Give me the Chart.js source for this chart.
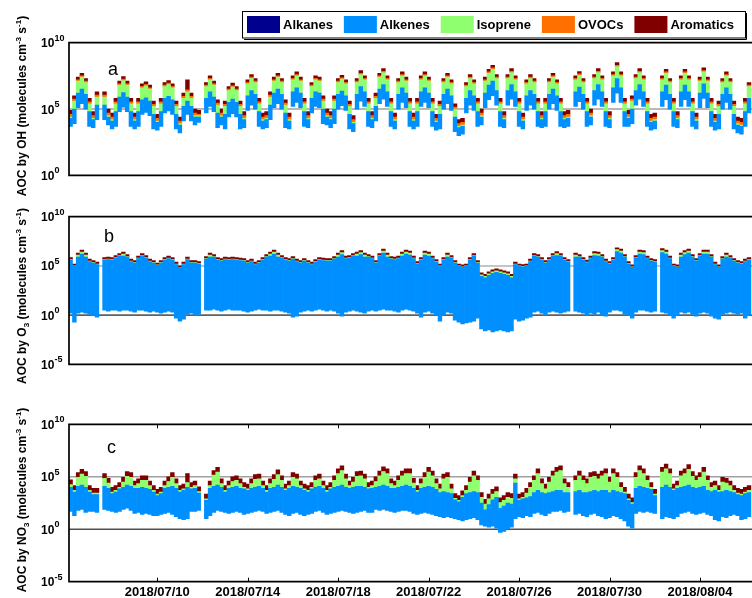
<!DOCTYPE html>
<html>
<head>
<meta charset="utf-8">
<script src="https://cdn.jsdelivr.net/npm/chart.js@4.4.1/dist/chart.umd.min.js"></script>
<style>
  html, body { margin: 0; padding: 0; background: #fff; }
  #wrap { position: relative; width: 752px; height: 598px; overflow: hidden; }
  canvas { position: absolute; left: 0; }
</style>
</head>
<body>
<div id="wrap">
  <canvas id="chartOH" width="752" height="200" style="top:0"></canvas>
  <canvas id="chartO3" width="752" height="200" style="top:200px"></canvas>
  <canvas id="chartNO3" width="752" height="198" style="top:400px"></canvas>
</div>
<script>
// one bar every 4 h, hours counted from 2018/07/10 00:00
const slotStartHour = -92;
const slotHours = 4;
const tickHours = [0, 96, 192, 288, 384, 480, 576];
const tickLabels = ["2018/07/10", "2018/07/14", "2018/07/18", "2018/07/22", "2018/07/26", "2018/07/30", "2018/08/04"];

const seriesNames = ["Alkanes", "Alkenes", "Isoprene", "OVOCs", "Aromatics"];
const seriesColors = ["rgb(0,0,143)", "rgb(0,143,255)", "rgb(143,255,112)", "rgb(255,112,0)", "rgb(128,0,0)"];

// log10 of the cumulative AOC (molecules cm-3 s-1) at the top of each class, null = no data

// a: AOC by OH
const ohAlkanesTop = [
  3.7, 3.9, 5.1, 5.4, 5.0, 3.7, 3.6, 4.2, null, 4.2,
  3.8, 3.5, 3.7, 4.8, 5.15, 4.8, 3.7, 3.5, 3.7, 4.6,
  4.75, 4.5, 3.5, 3.4, 3.7, 4.7, 4.85, 4.6, 3.5, 3.2,
  4.1, 4.6, 4.1, 3.8, 4.0, null, 4.7, 5.2, 4.8, 3.6,
  3.8, 3.5, 4.4, 4.65, 4.4, 3.5, 3.6, 4.9, 5.3, 5.0,
  3.7, 3.5, 3.6, 4.2, 5.1, 5.4, 5.0, 3.6, 3.5, 5.2,
  5.5, 5.1, 3.7, 3.6, 4.7, 5.2, 5.1, 3.9, 3.8, 3.6,
  3.9, 5.0, 5.25, 4.9, 3.5, 3.3, 5.0, 5.6, 5.2, 3.7,
  3.6, 4.1, 5.4, 5.75, 5.2, 3.7, 3.5, 5.0, 5.5, 5.1,
  3.7, 3.5, 3.7, 5.2, 5.5, 5.1, 3.7, 3.4, 3.5, 5.0,
  5.4, 4.9, 3.3, 3.0, 3.1, 4.7, 5.3, 4.9, 3.7, 3.8,
  5.1, 5.7, 6.0, 5.3, 3.7, 3.6, 5.3, 5.75, 5.2, 3.7,
  3.5, 4.9, 5.3, 5.0, 3.7, 3.6, 3.7, 5.0, 5.4, 4.9,
  3.7, 3.6, 3.7, null, 5.2, 5.55, 5.0, 3.7, 3.8, 5.3,
  5.75, 5.2, 3.7, 3.6, 5.5, 6.2, 5.5, 3.7, 3.7, 3.9,
  5.3, 5.75, 5.2, 3.7, 3.4, 3.5, null, 5.2, 5.7, 5.0,
  3.7, 3.6, 5.2, 5.7, 5.2, 3.7, 3.5, 5.1, 5.8, 5.1,
  3.7, 3.4, 3.5, 5.0, 5.5, 5.0, 3.5, 3.2, 3.1, 3.7,
  4.7
];
const ohAlkenesTop = [
  4.3, 5.0, 6.2, 6.5, 6.1, 4.8, 4.2, 5.3, null, 5.3,
  4.4, 4.1, 4.8, 5.9, 6.25, 5.9, 4.8, 4.1, 4.8, 5.7,
  5.85, 5.6, 4.6, 4.0, 4.8, 5.8, 5.95, 5.7, 4.6, 3.8,
  5.2, 5.6, 5.2, 4.4, 4.4, null, 5.8, 6.3, 5.9, 4.7,
  4.4, 4.6, 5.5, 5.75, 5.5, 4.6, 4.2, 6.0, 6.4, 6.1,
  4.8, 4.1, 4.2, 5.3, 6.2, 6.5, 6.1, 4.7, 4.1, 6.3,
  6.6, 6.2, 4.8, 4.2, 5.8, 6.3, 6.2, 5.0, 4.4, 4.2,
  5.0, 6.1, 6.35, 6.0, 4.6, 3.9, 6.1, 6.7, 6.3, 4.8,
  4.2, 5.2, 6.5, 6.85, 6.3, 4.8, 4.1, 6.1, 6.6, 6.2,
  4.8, 4.1, 4.8, 6.3, 6.6, 6.2, 4.8, 4.0, 4.6, 6.1,
  6.5, 6.0, 4.4, 3.6, 3.7, 5.8, 6.4, 6.0, 4.8, 4.4,
  6.2, 6.8, 7.1, 6.4, 4.8, 4.2, 6.4, 6.85, 6.3, 4.8,
  4.1, 6.0, 6.4, 6.1, 4.8, 4.2, 4.8, 6.1, 6.5, 6.0,
  4.8, 4.2, 4.3, null, 6.3, 6.65, 6.1, 4.8, 4.4, 6.4,
  6.85, 6.3, 4.8, 4.2, 6.6, 7.3, 6.6, 4.8, 4.3, 5.0,
  6.4, 6.85, 6.3, 4.8, 4.0, 4.1, null, 6.3, 6.8, 6.1,
  4.8, 4.2, 6.3, 6.8, 6.3, 4.8, 4.1, 6.2, 6.9, 6.2,
  4.8, 4.0, 4.6, 6.1, 6.6, 6.1, 4.6, 3.8, 3.7, 4.8,
  5.8
];
const ohIsopreneTop = [
  4.4, 5.6, 7.1, 7.4, 7.0, 5.4, 4.3, 5.9, null, 5.9,
  4.5, 4.2, 5.4, 6.8, 7.15, 6.8, 5.4, 4.2, 5.4, 6.6,
  6.75, 6.5, 5.2, 4.1, 5.4, 6.7, 6.85, 6.6, 5.2, 3.9,
  5.8, 6.3, 5.8, 4.5, 4.5, null, 6.7, 7.2, 6.8, 5.3,
  4.5, 5.2, 6.4, 6.65, 6.4, 5.2, 4.3, 6.9, 7.3, 7.0,
  5.4, 4.2, 4.3, 5.9, 7.1, 7.4, 7.0, 5.3, 4.2, 7.2,
  7.5, 7.1, 5.4, 4.3, 6.7, 7.2, 7.1, 5.6, 4.5, 4.3,
  5.6, 7.0, 7.25, 6.9, 5.2, 4.0, 7.0, 7.6, 7.2, 5.4,
  4.3, 5.8, 7.4, 7.75, 7.2, 5.4, 4.2, 7.0, 7.5, 7.1,
  5.4, 4.2, 5.4, 7.2, 7.5, 7.1, 5.4, 4.1, 5.2, 7.0,
  7.4, 6.9, 5.0, 3.7, 3.8, 6.7, 7.3, 6.9, 5.4, 4.5,
  7.1, 7.7, 8.0, 7.3, 5.4, 4.3, 7.3, 7.75, 7.2, 5.4,
  4.2, 6.9, 7.3, 7.0, 5.4, 4.3, 5.4, 7.0, 7.4, 6.9,
  5.4, 4.3, 4.4, null, 7.2, 7.55, 7.0, 5.4, 4.5, 7.3,
  7.75, 7.2, 5.4, 4.3, 7.5, 8.2, 7.5, 5.4, 4.4, 5.6,
  7.3, 7.75, 7.2, 5.4, 4.1, 4.2, null, 7.2, 7.7, 7.0,
  5.4, 4.3, 7.2, 7.7, 7.2, 5.4, 4.2, 7.1, 7.8, 7.1,
  5.4, 4.1, 5.2, 7.0, 7.5, 7.0, 5.2, 3.9, 3.8, 5.4,
  6.7
];
const ohOvocsTop = [
  4.6, 5.75, 7.2, 7.5, 7.1, 5.55, 4.5, 6.05, null, 6.05,
  4.7, 4.4, 5.55, 6.9, 7.25, 6.9, 5.55, 4.4, 5.55, 6.7,
  6.85, 6.6, 5.35, 4.3, 5.55, 6.8, 6.95, 6.7, 5.35, 4.1,
  5.95, 6.45, 5.95, 4.7, 4.6, null, 6.8, 7.3, 6.9, 5.45,
  4.7, 5.35, 6.5, 6.75, 6.5, 5.35, 4.5, 7.0, 7.4, 7.1,
  5.55, 4.4, 4.5, 6.05, 7.2, 7.5, 7.1, 5.45, 4.4, 7.3,
  7.6, 7.2, 5.55, 4.5, 6.8, 7.3, 7.2, 5.75, 4.7, 4.5,
  5.75, 7.1, 7.35, 7.0, 5.35, 4.2, 7.1, 7.7, 7.3, 5.55,
  4.5, 5.95, 7.5, 7.85, 7.3, 5.55, 4.4, 7.1, 7.6, 7.2,
  5.55, 4.4, 5.55, 7.3, 7.6, 7.2, 5.55, 4.3, 5.35, 7.1,
  7.5, 7.0, 5.15, 3.9, 4.0, 6.8, 7.4, 7.0, 5.55, 4.7,
  7.2, 7.8, 8.1, 7.4, 5.55, 4.5, 7.4, 7.85, 7.3, 5.55,
  4.4, 7.0, 7.4, 7.1, 5.55, 4.5, 5.55, 7.1, 7.5, 7.0,
  5.55, 4.5, 4.6, null, 7.3, 7.65, 7.1, 5.55, 4.7, 7.4,
  7.85, 7.3, 5.55, 4.5, 7.6, 8.3, 7.6, 5.55, 4.6, 5.75,
  7.4, 7.85, 7.3, 5.55, 4.3, 4.4, null, 7.3, 7.8, 7.1,
  5.55, 4.5, 7.3, 7.8, 7.3, 5.55, 4.4, 7.2, 7.9, 7.2,
  5.55, 4.3, 5.35, 7.1, 7.6, 7.1, 5.35, 4.1, 4.0, 5.55,
  6.8
];
const ohAromaticsTop = [
  4.9, 6.0, 7.4, 7.7, 7.3, 5.8, 4.8, 6.3, null, 6.3,
  5.0, 4.7, 5.8, 7.1, 7.45, 7.1, 5.8, 4.7, 5.8, 6.9,
  7.05, 6.8, 5.6, 4.6, 5.8, 7.0, 7.15, 6.9, 5.6, 4.4,
  6.2, 7.2, 6.2, 5.0, 4.9, null, 7.0, 7.5, 7.1, 5.7,
  5.0, 5.6, 6.7, 6.95, 6.7, 5.6, 4.8, 7.2, 7.6, 7.3,
  5.8, 4.7, 4.8, 6.3, 7.4, 7.7, 7.3, 5.7, 4.7, 7.5,
  7.8, 7.4, 5.8, 4.8, 7.0, 7.5, 7.4, 6.0, 5.0, 4.8,
  6.0, 7.3, 7.55, 7.2, 5.6, 4.5, 7.3, 7.9, 7.5, 5.8,
  4.8, 6.2, 7.7, 8.05, 7.5, 5.8, 4.7, 7.3, 7.8, 7.4,
  5.8, 4.7, 5.8, 7.5, 7.8, 7.4, 5.8, 4.6, 5.6, 7.3,
  7.7, 7.2, 5.4, 4.2, 4.3, 7.0, 7.6, 7.2, 5.8, 5.0,
  7.4, 8.0, 8.3, 7.6, 5.8, 4.8, 7.6, 8.05, 7.5, 5.8,
  4.7, 7.2, 7.6, 7.3, 5.8, 4.8, 5.8, 7.3, 7.7, 7.2,
  5.8, 4.8, 4.9, null, 7.5, 7.83, 7.3, 5.8, 5.0, 7.6,
  8.05, 7.5, 5.8, 4.8, 7.8, 8.5, 7.8, 5.8, 4.9, 6.0,
  7.6, 8.05, 7.5, 5.8, 4.6, 4.7, null, 7.5, 8.0, 7.3,
  5.8, 4.8, 7.5, 8.0, 7.5, 5.8, 4.7, 7.4, 8.1, 7.4,
  5.8, 4.6, 5.6, 7.3, 7.8, 7.3, 5.6, 4.4, 4.3, 5.8,
  7.0
];

// b: AOC by O3 (OVOCs too small to show)
const o3AlkanesTop = [
  0.2, -0.7, 0.2, 0.3, 0.2, 0.1, 0.0, -0.2, null, 0.5,
  0.4, 0.5, 0.5, 0.4, 0.5, 0.5, 0.4, 0.3, 0.5, 0.5,
  0.4, 0.3, 0.4, 0.3, 0.2, 0.3, 0.4, 0.3, -0.3, -0.6,
  -0.4, 0.1, 0.2, 0.0, 0.1, null, 0.5, 0.5, 0.6, 0.5,
  0.4, 0.5, 0.6, 0.5, 0.5, 0.5, 0.4, 0.3, 0.4, 0.5,
  0.6, 0.5, 0.5, 0.4, 0.5, 0.5, 0.4, 0.3, 0.2, -0.2,
  -0.1, 0.3, 0.4, 0.5, 0.4, 0.5, 0.6, 0.5, 0.4, 0.5,
  0.4, 0.2, -0.1, 0.3, 0.4, 0.5, 0.4, 0.3, 0.2, 0.4,
  0.5, 0.4, 0.5, 0.6, 0.5, 0.5, 0.4, 0.3, 0.5, 0.6,
  0.5, 0.4, 0.2, -0.2, 0.3, 0.4, 0.2, 0.0, -0.6, 0.0,
  0.3, 0.2, -0.5, -0.7, -0.9, -0.8, -0.7, -0.6, -0.3, -1.4,
  -1.6, -1.5, -1.7, -1.6, -1.5, -1.6, -1.7, -1.6, -0.4, -0.6,
  -0.5, -0.3, -0.2, 0.3, 0.4, 0.2, 0.0, 0.3, 0.4, 0.3,
  0.2, 0.3, 0.4, null, 0.4, 0.3, 0.2, 0.0, 0.2, 0.1,
  0.3, 0.0, -0.1, 0.3, 0.5, 0.5, 0.4, 0.1, 0.0, -0.3,
  0.3, 0.5, 0.5, 0.4, 0.3, 0.4, null, 0.3, 0.2, 0.0,
  -0.3, 0.0, 0.3, 0.2, 0.3, 0.1, -0.1, 0.2, 0.3, 0.2,
  -0.1, -0.3, -0.4, 0.1, 0.2, 0.3, 0.2, 0.1, 0.2, -0.3,
  0.0
];
const o3AlkenesTop = [
  5.6, 4.95, 5.9, 6.2, 5.9, 5.45, 5.3, 5.15, null, 5.6,
  5.65, 5.6, 5.8, 6.0, 6.0, 5.9, 5.45, 5.3, 5.75, 6.0,
  5.8, 5.45, 5.3, 5.05, 5.3, 5.6, 5.75, 5.6, 5.15, 4.75,
  5.15, 5.65, 5.3, 5.3, 5.2, null, 5.7, 5.9, 5.9, 5.6,
  5.5, 5.65, 5.6, 5.65, 5.6, 5.55, 5.5, 5.3, 5.45, 5.15,
  5.3, 5.6, 5.9, 6.0, 6.2, 5.9, 5.8, 5.6, 5.5, 5.7,
  5.45, 5.3, 5.5, 5.3, 5.15, 5.4, 5.6, 5.55, 5.5, 5.5,
  5.7, 5.9, 6.15, 5.75, 5.8, 6.0, 6.0, 6.15, 5.9, 5.9,
  5.75, 5.3, 6.0, 6.3, 5.9, 5.7, 5.65, 5.75, 6.0, 6.2,
  6.1, 5.75, 5.2, 5.6, 6.1, 6.0, 5.75, 5.4, 4.95, 5.6,
  5.9, 5.8, 5.3, 4.95, 4.85, 4.95, 5.6, 6.0, 5.3, 3.95,
  3.8, 4.05, 4.25, 4.35, 4.25, 4.15, 4.05, 3.8, 5.15, 4.95,
  4.9, 4.95, 5.45, 6.0, 5.9, 5.6, 5.3, 5.6, 6.0, 6.05,
  6.0, 5.6, 5.4, null, 5.9, 5.9, 5.6, 5.35, 5.75, 6.05,
  6.0, 5.9, 5.45, 5.2, 5.6, 6.45, 6.3, 5.9, 5.2, 4.85,
  5.8, 6.2, 6.15, 5.75, 5.5, 5.4, null, 6.35, 6.2, 5.75,
  4.95, 4.85, 5.9, 6.15, 6.3, 5.9, 5.5, 6.0, 6.2, 6.2,
  5.9, 5.15, 4.85, 5.7, 5.9, 5.8, 5.5, 5.3, 5.2, 5.45,
  5.6
];
const o3IsopreneTop = [
  5.65, 5.0, 6.1, 6.4, 6.1, 5.5, 5.35, 5.2, null, 5.65,
  5.7, 5.65, 5.85, 6.05, 6.2, 5.95, 5.5, 5.35, 5.8, 6.05,
  5.85, 5.5, 5.35, 5.1, 5.35, 5.65, 5.8, 5.65, 5.2, 4.8,
  5.2, 5.7, 5.35, 5.35, 5.25, null, 5.75, 6.1, 5.95, 5.65,
  5.55, 5.7, 5.65, 5.7, 5.65, 5.6, 5.55, 5.35, 5.5, 5.2,
  5.35, 5.65, 5.95, 6.2, 6.4, 6.1, 5.85, 5.65, 5.55, 5.75,
  5.5, 5.35, 5.55, 5.35, 5.2, 5.45, 5.65, 5.6, 5.55, 5.55,
  5.75, 6.1, 6.35, 5.8, 5.85, 6.05, 6.2, 6.35, 6.1, 5.95,
  5.8, 5.35, 6.05, 6.5, 6.1, 5.75, 5.7, 5.8, 6.2, 6.4,
  6.3, 5.8, 5.25, 5.65, 6.3, 6.2, 5.8, 5.45, 5.0, 5.65,
  6.1, 5.85, 5.35, 5.0, 4.9, 5.0, 5.65, 6.05, 5.35, 4.1,
  3.95, 4.2, 4.4, 4.5, 4.4, 4.3, 4.2, 3.95, 5.2, 5.0,
  4.95, 5.0, 5.5, 6.05, 5.95, 5.65, 5.35, 5.65, 6.05, 6.25,
  6.05, 5.65, 5.45, null, 6.1, 5.95, 5.65, 5.4, 5.8, 6.25,
  6.2, 5.95, 5.5, 5.25, 5.65, 6.65, 6.5, 5.95, 5.25, 4.9,
  5.85, 6.4, 6.35, 5.8, 5.55, 5.45, null, 6.55, 6.4, 5.8,
  5.0, 4.9, 6.1, 6.35, 6.5, 5.95, 5.55, 6.05, 6.4, 6.4,
  5.95, 5.2, 4.9, 5.75, 6.1, 5.85, 5.55, 5.35, 5.25, 5.5,
  5.65
];
const o3AromaticsTop = [
  5.85, 5.2, 6.3, 6.6, 6.3, 5.7, 5.55, 5.4, null, 5.85,
  5.9, 5.85, 6.05, 6.25, 6.4, 6.15, 5.7, 5.55, 6.0, 6.25,
  6.05, 5.7, 5.55, 5.3, 5.55, 5.85, 6.0, 5.85, 5.4, 5.0,
  5.4, 5.9, 5.55, 5.55, 5.45, null, 5.95, 6.3, 6.15, 5.85,
  5.75, 5.9, 5.85, 5.9, 5.85, 5.8, 5.75, 5.55, 5.7, 5.4,
  5.55, 5.85, 6.15, 6.4, 6.6, 6.3, 6.05, 5.85, 5.75, 5.95,
  5.7, 5.55, 5.75, 5.55, 5.4, 5.65, 5.85, 5.8, 5.75, 5.75,
  5.95, 6.3, 6.55, 6.0, 6.05, 6.25, 6.4, 6.55, 6.3, 6.15,
  6.0, 5.55, 6.25, 6.7, 6.3, 5.95, 5.9, 6.0, 6.4, 6.6,
  6.5, 6.0, 5.45, 5.85, 6.5, 6.4, 6.0, 5.65, 5.2, 5.85,
  6.3, 6.05, 5.55, 5.2, 5.1, 5.2, 5.85, 6.25, 5.55, 4.3,
  4.15, 4.4, 4.6, 4.7, 4.6, 4.5, 4.4, 4.15, 5.4, 5.2,
  5.15, 5.2, 5.7, 6.25, 6.15, 5.85, 5.55, 5.85, 6.25, 6.45,
  6.25, 5.85, 5.65, null, 6.3, 6.15, 5.85, 5.6, 6.0, 6.45,
  6.4, 6.15, 5.7, 5.45, 5.85, 6.85, 6.7, 6.15, 5.45, 5.1,
  6.05, 6.6, 6.55, 6.0, 5.75, 5.65, null, 6.75, 6.6, 6.0,
  5.2, 5.1, 6.3, 6.55, 6.7, 6.15, 5.75, 6.25, 6.6, 6.6,
  6.15, 5.4, 5.1, 5.95, 6.3, 6.05, 5.75, 5.55, 5.45, 5.7,
  5.85
];

// c: AOC by NO3 (OVOCs too small to show)
const no3AlkanesTop = [
  1.7, 1.3, 1.8, 1.9, 1.6, 1.7, 1.7, 1.6, null, 1.9,
  1.8, 1.7, 1.6, 1.7, 1.9, 2.0, 1.8, 1.5, 1.6, 1.4,
  1.5, 1.4, 1.3, 1.3, 1.4, 1.5, 1.6, 1.4, 1.2, 1.0,
  0.9, 1.0, 1.7, 1.7, 1.8, null, 1.0, 1.3, 1.6, 1.8,
  1.7, 1.6, 1.5, 1.6, 1.7, 1.6, 1.4, 1.5, 1.6, 1.7,
  1.8, 1.7, 1.5, 1.6, 1.7, 1.8, 1.6, 1.4, 1.3, 1.5,
  1.6, 1.4, 1.3, 1.4, 1.5, 1.7, 1.8, 1.6, 1.4, 1.5,
  1.6, 1.7, 1.8, 1.7, 1.6, 1.5, 1.6, 1.7, 1.8, 1.6,
  1.6, 1.9, 1.8, 1.9, 1.8, 1.7, 1.6, 1.7, 1.8, 1.8,
  1.7, 1.5, 1.4, 1.5, 1.6, 1.5, 1.4, 1.3, 1.2, 1.1,
  1.2, 1.1, 1.0, 0.9, 0.8, 0.9, 1.0, 1.1, 0.9, 0.4,
  0.3, 0.2, 0.3, 0.1, -0.3, -0.2, 0.0, 0.2, 1.0, 1.2,
  1.1, 1.3, 1.2, 1.5, 1.6, 1.4, 1.3, 1.5, 1.7, 1.7,
  1.8, 1.6, 1.7, null, 1.4, 1.5, 1.3, 1.2, 1.4, 1.5,
  1.3, 1.2, 1.0, 1.1, 1.3, 1.2, 1.0, 0.8, 0.3, 0.1,
  1.5, 1.7, 1.6, 1.7, 1.6, 1.5, null, 1.0, 1.2, 1.1,
  1.0, 1.2, 1.5, 1.6, 1.7, 1.5, 1.4, 1.5, 1.6, 1.4,
  1.3, 0.9, 0.8, 1.2, 1.1, 1.3, 1.4, 1.3, 0.9, 1.0,
  1.2
];
const no3AlkenesTop = [
  4.0, 3.55, 4.1, 4.2, 4.0, 3.55, 3.3, 3.3, null, 4.1,
  3.9, 3.4, 3.55, 3.85, 4.0, 4.2, 4.1, 3.9, 3.9, 4.0,
  3.9, 3.8, 3.55, 3.2, 3.4, 3.9, 4.0, 4.1, 3.9, 3.55,
  3.7, 4.0, 3.85, 3.9, 3.45, null, 2.75, 3.9, 4.1, 4.2,
  4.0, 3.55, 3.9, 4.0, 4.1, 3.9, 3.85, 3.7, 3.9, 4.0,
  4.1, 3.9, 3.55, 3.9, 4.0, 4.2, 4.0, 3.7, 3.9, 4.1,
  4.0, 3.9, 3.7, 3.55, 3.85, 4.0, 4.1, 3.9, 3.55, 3.85,
  4.0, 4.1, 4.2, 4.0, 3.9, 4.0, 4.1, 4.1, 4.0, 3.85,
  3.9, 4.0, 4.1, 4.2, 4.1, 3.9, 3.9, 4.0, 4.1, 4.2,
  4.1, 3.9, 3.55, 3.9, 4.0, 4.1, 4.0, 3.8, 3.5, 3.6,
  3.5, 3.4, 2.8, 2.6, 3.05, 3.4, 3.5, 3.6, 3.5, 2.5,
  1.85, 2.35, 2.8, 3.05, 2.0, 2.2, 2.5, 2.4, 4.4, 2.75,
  2.9, 3.0, 3.1, 3.5, 3.7, 3.5, 3.4, 3.5, 3.6, 3.7,
  3.7, 3.5, 3.5, null, 3.6, 3.7, 3.5, 3.5, 3.6, 3.7,
  3.6, 3.7, 3.7, 3.5, 3.7, 3.6, 3.5, 3.4, 2.75, 2.4,
  3.9, 4.1, 4.0, 3.9, 3.8, 3.2, null, 4.0, 4.2, 4.0,
  3.7, 3.9, 4.0, 4.1, 4.2, 4.0, 3.9, 4.0, 4.1, 3.7,
  3.6, 3.7, 3.55, 3.6, 3.7, 3.6, 3.5, 3.3, 3.2, 3.4,
  3.5
];
const no3IsopreneTop = [
  4.25, 3.7, 4.95, 5.25, 5.05, 3.7, 3.45, 3.45, null, 4.85,
  4.4, 3.55, 3.7, 4.0, 4.5, 5.05, 4.95, 4.15, 4.35, 4.65,
  4.65, 4.15, 3.7, 3.35, 3.55, 4.15, 4.55, 4.95, 4.35, 3.7,
  3.85, 4.45, 4.0, 4.15, 3.6, null, 2.9, 4.15, 5.15, 5.45,
  4.35, 3.7, 4.15, 4.55, 4.65, 4.35, 4.0, 3.85, 4.35, 4.75,
  4.8, 4.15, 3.7, 4.35, 4.75, 5.2, 4.65, 3.85, 4.15, 4.95,
  4.8, 4.15, 3.85, 3.7, 4.0, 4.65, 4.8, 4.15, 3.7, 4.0,
  4.65, 5.3, 5.6, 4.8, 4.15, 4.5, 5.05, 5.1, 4.8, 4.0,
  4.15, 4.55, 5.1, 5.5, 5.3, 4.35, 4.15, 4.65, 5.1, 5.3,
  5.3, 4.4, 3.7, 4.35, 4.95, 5.45, 5.1, 4.35, 3.85, 4.8,
  4.95, 3.85, 2.95, 2.75, 3.2, 3.7, 4.5, 5.1, 4.65, 3.05,
  2.4, 2.9, 3.35, 3.6, 2.55, 2.75, 3.05, 2.95, 4.8, 2.9,
  3.05, 3.45, 4.0, 4.65, 5.3, 4.35, 3.85, 4.5, 5.1, 5.45,
  5.6, 4.35, 4.0, null, 4.65, 5.1, 4.65, 4.35, 4.95, 5.05,
  4.8, 5.1, 5.3, 4.5, 5.3, 4.95, 4.0, 3.55, 2.9, 2.55,
  4.95, 5.6, 5.3, 4.65, 4.0, 3.35, null, 5.45, 5.75, 5.3,
  3.85, 4.15, 5.1, 5.3, 5.7, 5.05, 4.65, 4.95, 5.45, 4.65,
  4.0, 4.15, 3.7, 4.5, 4.4, 4.15, 3.7, 3.45, 3.35, 3.55,
  3.7
];
const no3AromaticsTop = [
  4.7, 4.15, 5.4, 5.7, 5.5, 4.15, 3.9, 3.9, null, 5.3,
  4.85, 4.0, 4.15, 4.45, 4.95, 5.5, 5.4, 4.6, 4.8, 5.1,
  5.1, 4.6, 4.15, 3.8, 4.0, 4.6, 5.0, 5.4, 4.8, 4.15,
  4.3, 5.3, 4.45, 4.6, 4.05, null, 3.35, 4.6, 5.6, 5.9,
  4.8, 4.15, 4.6, 5.0, 5.1, 4.8, 4.45, 4.3, 4.8, 5.2,
  5.25, 4.6, 4.15, 4.8, 5.2, 5.65, 5.1, 4.3, 4.6, 5.4,
  5.25, 4.6, 4.3, 4.15, 4.45, 5.1, 5.25, 4.6, 4.15, 4.45,
  5.1, 5.75, 6.05, 5.25, 4.6, 4.95, 5.5, 5.55, 5.25, 4.45,
  4.6, 5.0, 5.55, 5.95, 5.75, 4.8, 4.6, 5.1, 5.55, 5.75,
  5.75, 4.85, 4.15, 4.8, 5.4, 5.9, 5.55, 4.8, 4.3, 5.25,
  5.4, 4.3, 3.4, 3.2, 3.65, 4.15, 4.95, 5.55, 5.1, 3.5,
  2.85, 3.35, 3.8, 4.05, 3.0, 3.2, 3.5, 3.4, 5.25, 3.35,
  3.5, 3.9, 4.45, 5.1, 5.75, 4.8, 4.3, 4.95, 5.55, 5.9,
  6.05, 4.8, 4.45, null, 5.1, 5.55, 5.1, 4.8, 5.4, 5.5,
  5.25, 5.55, 5.75, 4.95, 5.75, 5.4, 4.45, 4.0, 3.35, 3.0,
  5.4, 6.05, 5.75, 5.1, 4.45, 3.8, null, 5.9, 6.2, 5.75,
  4.3, 4.6, 5.55, 5.75, 6.15, 5.5, 5.1, 5.4, 5.9, 5.1,
  4.45, 4.6, 4.15, 4.95, 4.85, 4.6, 4.15, 3.9, 3.8, 4.0,
  4.15
];

const FONT = '"Liberation Sans", Arial, sans-serif';
Chart.defaults.font.family = FONT;

// floating bar [lower edge, upper edge] for every slot that has data
function band(lower, upper) {
  const pts = [];
  for (let i = 0; i < upper.length; i++) {
    if (lower[i] === null || upper[i] === null) continue;
    pts.push({ x: slotStartHour + i * slotHours, y: [Math.pow(10, lower[i]), Math.pow(10, upper[i])] });
  }
  return pts;
}

function classDatasets(bands) {
  return seriesNames.map((name, k) => ({
    label: name,
    data: bands[k] || [],
    backgroundColor: seriesColors[k],
    borderWidth: 0,
    grouped: false,
    barPercentage: 1,
    categoryPercentage: 1
  }));
}

function drawRichVertical(ctx, parts, cx, cy) {
  const base = 'bold 12px ' + FONT;
  const small = 'bold 8px ' + FONT;
  let total = 0;
  parts.forEach(p => {
    ctx.font = p[1] ? small : base;
    p.w = ctx.measureText(p[0]).width;
    total += p.w;
  });
  ctx.save();
  ctx.translate(cx, cy);
  ctx.rotate(-Math.PI / 2);
  ctx.fillStyle = '#000';
  ctx.textAlign = 'left';
  ctx.textBaseline = 'alphabetic';
  let x = -total / 2;
  parts.forEach(p => {
    ctx.font = p[1] ? small : base;
    const dy = p[1] === 'sup' ? -5 : (p[1] === 'sub' ? 3 : 0);
    ctx.fillText(p[0], x, 4 + dy);
    x += p.w;
  });
  ctx.restore();
}

function panelPlugin(cfg) {
  return {
    id: 'panelDeco',
    beforeDatasetsDraw(chart) {
      const { ctx, chartArea: a } = chart;
      const y = chart.scales.y;
      ctx.save();
      cfg.gridLines.forEach(g => {
        const py = y.getPixelForValue(g.value);
        ctx.strokeStyle = g.color;
        ctx.lineWidth = g.width;
        ctx.beginPath();
        ctx.moveTo(a.left, py);
        ctx.lineTo(a.right, py);
        ctx.stroke();
      });
      ctx.restore();
    },
    afterDraw(chart) {
      const { ctx, chartArea: a } = chart;
      const y = chart.scales.y;
      const x = chart.scales.x;
      ctx.save();
      // frame (no right edge, the plot runs off the picture)
      ctx.strokeStyle = '#000';
      ctx.lineWidth = 1.7;
      ctx.beginPath();
      ctx.moveTo(a.right, a.top);
      ctx.lineTo(a.left, a.top);
      ctx.lineTo(a.left, a.bottom);
      ctx.lineTo(a.right, a.bottom);
      ctx.stroke();
      if (cfg.dateTicks) {
        ctx.lineWidth = 1;
        tickHours.forEach(h => {
          const px = Math.round(x.getPixelForValue(h)) + 0.5;
          ctx.beginPath();
          ctx.moveTo(px, a.top); ctx.lineTo(px, a.top + 4);
          ctx.moveTo(px, a.bottom); ctx.lineTo(px, a.bottom - 4);
          ctx.stroke();
        });
      }
      // y tick labels 10^n
      ctx.fillStyle = '#000';
      ctx.textAlign = 'left';
      ctx.textBaseline = 'alphabetic';
      cfg.exponents.forEach(e => {
        const py = y.getPixelForValue(Math.pow(10, e));
        ctx.font = 'bold 12px ' + FONT;
        ctx.fillText('10', 41, py + 4.5);
        ctx.font = 'bold 9px ' + FONT;
        ctx.fillText(String(e), 54.5, py - 2);
      });
      // panel letter
      ctx.font = '18px ' + FONT;
      ctx.fillText(cfg.letter[0], cfg.letter[1], cfg.letter[2]);
      ctx.restore();
      drawRichVertical(ctx, cfg.title, 22, cfg.titleY);
    }
  };
}

const legendPlugin = {
  id: 'boxLegend',
  afterDraw(chart) {
    const ctx = chart.ctx;
    ctx.save();
    ctx.strokeStyle = '#000';
    ctx.lineWidth = 1;
    ctx.strokeRect(242.5, 11.5, 503, 26.5);
    ctx.beginPath();
    ctx.moveTo(244, 39.5); ctx.lineTo(746.5, 39.5); ctx.lineTo(746.5, 13);
    ctx.stroke();
    ctx.font = 'bold 13px ' + FONT;
    ctx.textBaseline = 'middle';
    ctx.textAlign = 'left';
    let lx = 247;
    chart.data.datasets.forEach(ds => {
      ctx.fillStyle = ds.backgroundColor;
      ctx.fillRect(lx, 16, 33, 17);
      ctx.fillStyle = '#000';
      ctx.fillText(ds.label, lx + 36, 25);
      lx += 36 + ctx.measureText(ds.label).width + 11;
    });
    ctx.restore();
  }
};

function makeChart(id, bands, cfg) {
  return new Chart(document.getElementById(id), {
    type: 'bar',
    data: { datasets: classDatasets(bands) },
    options: {
      responsive: false,
      animation: false,
      events: [],
      layout: { padding: { left: 69, right: 0, top: cfg.padTop, bottom: cfg.padBottom } },
      plugins: { legend: { display: false }, tooltip: { enabled: false } },
      scales: {
        x: {
          type: 'linear',
          min: -93.7,
          max: 631.2,
          offset: false,
          display: cfg.dateTicks,
          grid: { display: false, drawTicks: false },
          border: { display: false },
          afterBuildTicks: s => { s.ticks = tickHours.map(v => ({ value: v })); },
          afterFit: s => { s.height = 16.3; },
          ticks: {
            autoSkip: false,
            maxRotation: 0,
            padding: 3,
            color: '#000',
            font: { size: 13, weight: 'bold' },
            callback: v => tickLabels[tickHours.indexOf(v)]
          }
        },
        y: { type: 'logarithmic', min: cfg.yMin, max: cfg.yMax, display: false }
      }
    },
    plugins: cfg.legend ? [panelPlugin(cfg), legendPlugin] : [panelPlugin(cfg)]
  });
}

makeChart('chartOH', [
  null,
  band(ohAlkanesTop, ohAlkenesTop),
  band(ohAlkenesTop, ohIsopreneTop),
  band(ohIsopreneTop, ohOvocsTop),
  band(ohOvocsTop, ohAromaticsTop)
], {
  padTop: 42.7, padBottom: 8.3, yMin: 1, yMax: 1e10, exponents: [0, 5, 10],
  gridLines: [{ value: 1e5, color: '#a0a0a0', width: 1.5 }],
  letter: ['a', 108, 75], titleY: 106, legend: true, dateTicks: false,
  title: [['AOC by OH (molecules cm'], ['-3', 'sup'], [' s'], ['-1', 'sup'], [')']]
});

makeChart('chartO3', [
  null,
  band(o3AlkanesTop, o3AlkenesTop),
  band(o3AlkenesTop, o3IsopreneTop),
  null,
  band(o3IsopreneTop, o3AromaticsTop)
], {
  padTop: 16.7, padBottom: 19.3, yMin: 1e-5, yMax: 1e10, exponents: [-5, 0, 5, 10],
  gridLines: [{ value: 1e5, color: '#b0b0b0', width: 1.5 }, { value: 1, color: '#606060', width: 1.6 }],
  letter: ['b', 104, 42], titleY: 96, legend: false, dateTicks: false,
  title: [['AOC by O'], ['3', 'sub'], [' (molecules cm'], ['-3', 'sup'], [' s'], ['-1', 'sup'], [')']]
});

makeChart('chartNO3', [
  null,
  band(no3AlkanesTop, no3AlkenesTop),
  band(no3AlkenesTop, no3IsopreneTop),
  null,
  band(no3IsopreneTop, no3AromaticsTop)
], {
  padTop: 24.3, padBottom: 0, yMin: 1e-5, yMax: 1e10, exponents: [-5, 0, 5, 10],
  gridLines: [{ value: 1e5, color: '#a0a0a0', width: 1.5 }, { value: 1, color: '#505050', width: 1.6 }],
  letter: ['c', 107, 53], titleY: 100, legend: false, dateTicks: true,
  title: [['AOC by NO'], ['3', 'sub'], [' (molecules cm'], ['-3', 'sup'], [' s'], ['-1', 'sup'], [')']]
});
</script>
</body>
</html>
